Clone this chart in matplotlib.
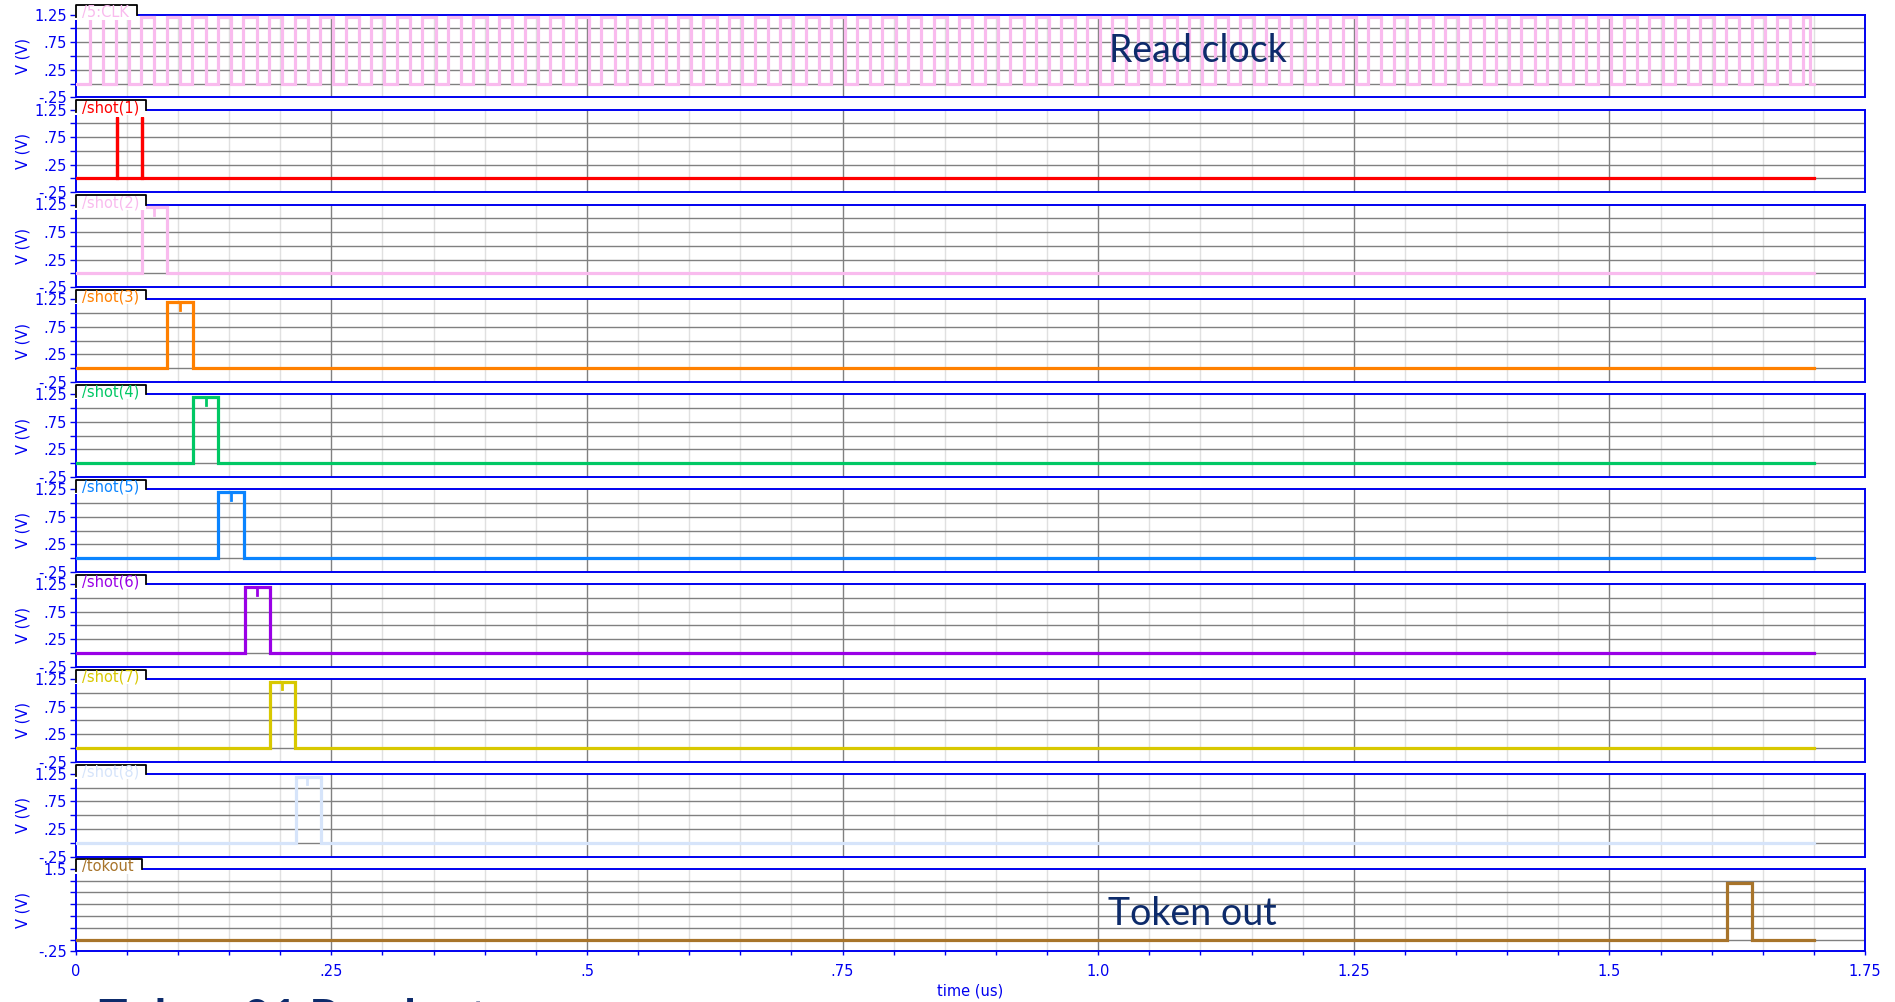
import numpy as np
import matplotlib.pyplot as plt
from matplotlib.patches import Rectangle
from matplotlib.lines import Line2D

t_stop = 1.7                     # us, end of the transient run
clk_first_rise = 0.014
clk_period = 0.025
clk_high_time = 0.013
clk_level = 1.21

names = ['/5:CLK', '/shot(1)', '/shot(2)', '/shot(3)', '/shot(4)',
         '/shot(5)', '/shot(6)', '/shot(7)', '/shot(8)', '/tokout']
colors = ['#f9bbee', '#ff0000', '#f9bbee', '#ff8000', '#00c864',
          '#0a84ff', '#9a00e6', '#d8c800', '#d6e4fa', '#a8742a']

shot1_spikes = [0.040, 0.0645]
shot1_level = 1.12

# shot(2) .. shot(8): one clock period each
shot_rise = [0.0650, 0.0896, 0.1150, 0.1394, 0.1655, 0.1900, 0.2150]
shot_fall = [0.0890, 0.1144, 0.1388, 0.1642, 0.1900, 0.2145, 0.2395]
shot_notch = [0.0766, 0.1020, 0.1270, 0.1518, 0.1770, 0.2014, 0.2263]
shot_level = 1.2

tok_rise = [1.615]
tok_fall = [1.6395]
tok_level = 1.2


def pulse_wave(rises, falls, level):
    t, v = [0.0], [0.0]
    for r, f in zip(rises, falls):
        t += [r, r, f, f]
        v += [0.0, level, level, 0.0]
    t.append(t_stop)
    v.append(0.0)
    return t, v


clk_r = np.arange(clk_first_rise, t_stop - 0.005, clk_period)
clk_f = np.minimum(clk_r + clk_high_time, t_stop - 0.004)
waves = [pulse_wave(clk_r, clk_f, clk_level),
         pulse_wave(shot1_spikes, [s + 0.0008 for s in shot1_spikes], shot1_level)]
for r, f in zip(shot_rise, shot_fall):
    waves.append(pulse_wave([r], [f], shot_level))
waves.append(pulse_wave(tok_rise, tok_fall, tok_level))

# ---- layout (pixels of the 1895x1002 canvas) ----
W, H = 1895, 1002
left, right = 75.7, 1865
top0, pitch, ph = 14.7, 94.9, 82.6
tab_right = [136.7] + [145.7] * 8 + [142]
blue = '#0000f0'
navy = '#0d2b6b'


def fx(x):
    return x / W


def fy(y):
    return 1 - y / H


fig = plt.figure(figsize=(W / 100, H / 100), dpi=100)

for i in range(10):
    T = top0 + pitch * i
    ax = fig.add_axes([fx(left), fy(T + ph), fx(right - left), ph / H])
    ymax = 1.5 if i == 9 else 1.25
    ax.set_xlim(0, 1.75)
    ax.set_ylim(-0.25, ymax)

    for xv in np.arange(0.05, 1.75, 0.05):
        major = abs(xv / 0.25 - round(xv / 0.25)) < 1e-6
        ax.axvline(xv, color='#808080' if major else '#e0e0e0', lw=1.0, zorder=1)
    for yv in np.arange(0, ymax, 0.25):
        ax.axhline(yv, color='#808080', lw=1.0, zorder=1)

    t, v = waves[i]
    ax.plot(t, v, color=colors[i], lw=2.3, zorder=3, solid_joinstyle='miter')
    if 2 <= i <= 8:
        n = shot_notch[i - 2]
        ax.plot([n, n], [shot_level, shot_level - 0.14], color=colors[i], lw=2.0, zorder=3)

    for s in ax.spines.values():
        s.set_color(blue)
        s.set_linewidth(1.4)

    yt = np.arange(-0.25, ymax + 0.01, 0.25)
    ax.set_yticks(yt)
    if i == 9:
        lab = ['-.25', '', '', '', '', '', '', '1.5']
    else:
        lab = ['-.25', '', '.25', '', '.75', '', '1.25']
    ax.set_yticklabels(lab)
    ax.tick_params(axis='y', direction='out', length=4.3, width=1.0, color=blue,
                   labelcolor=blue, labelsize=10.5, pad=2)
    ax.set_ylabel('V (V)', color=blue, fontsize=10.5)
    ax.yaxis.set_label_coords((30 - left) / (right - left), 0.5)

    if i == 9:
        ax.set_xticks(np.arange(0, 1.76, 0.05))
        xl = {0: '0', 5: '.25', 10: '.5', 15: '.75', 20: '1.0', 25: '1.25', 30: '1.5', 35: '1.75'}
        ax.set_xticklabels([xl.get(k, '') for k in range(36)])
        ax.tick_params(axis='x', direction='out', length=3, width=1.0, color=blue,
                       labelcolor=blue, labelsize=10.5, pad=6)
        ax.set_xlabel('time (us)', color=blue, fontsize=10.5, labelpad=3)
    else:
        ax.set_xticks([])

    # signal name tab
    tb, tt = T + 5, T - 9.4
    fig.add_artist(Rectangle((fx(left - 1), fy(tb)), fx(tab_right[i] - left + 1), (tb - tt) / H,
                             transform=fig.transFigure, facecolor='white', edgecolor='none', zorder=5))
    fig.add_artist(Line2D([fx(left), fx(left), fx(tab_right[i]), fx(tab_right[i])],
                          [fy(T + 2.5), fy(tt), fy(tt), fy(T)],
                          transform=fig.transFigure, color='black', lw=1.3, zorder=6))
    fig.text(fx(81.7), fy(T - 2), names[i], color=colors[i], fontsize=10.5,
             va='center', ha='left', zorder=7)

fig.text(fx(1109), fy(62), 'Read clock', color=navy, fontsize=27, family='Lato',
         va='baseline', ha='left', zorder=8)
fig.text(fx(1108), fy(925), 'Token out', color=navy, fontsize=27, family='Lato',
         va='baseline', ha='left', zorder=8)
# slide title below the screenshot, only its top edge shows
fig.text(fx(99), fy(998), 'Token 01 Readout', color=navy, fontsize=34, family='Lato',
         fontweight='bold', va='top', ha='left', zorder=8)

fig.savefig('out.png', dpi=100)
